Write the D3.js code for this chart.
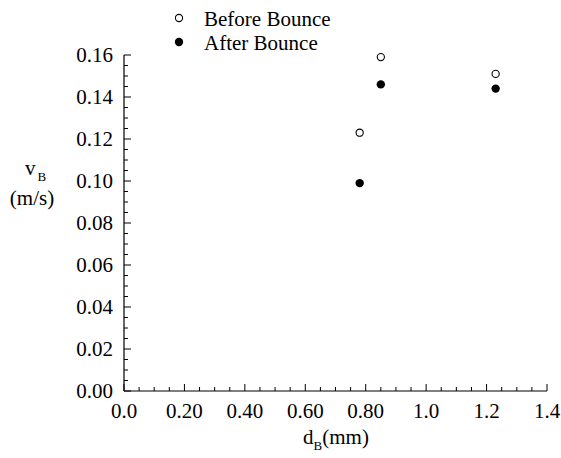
<!DOCTYPE html>
<html><head><meta charset="utf-8">
<script src="https://cdn.jsdelivr.net/npm/d3@7"></script>
<style>body{margin:0;background:#fff}svg{display:block}text{font-family:"Liberation Serif","Times New Roman",serif;fill:#000}</style>
</head><body>
<script>
const xValues = [0.78, 0.85, 1.23];
const beforeBounce = [0.123, 0.159, 0.151];
const afterBounce = [0.099, 0.146, 0.144];
const xTickValues = [0, 0.2, 0.4, 0.6, 0.8, 1.0, 1.2, 1.4];
const xTickLabels = ["0.0", "0.20", "0.40", "0.60", "0.80", "1.0", "1.2", "1.4"];
const yTickValues = [0, 0.02, 0.04, 0.06, 0.08, 0.10, 0.12, 0.14, 0.16];
const seriesNames = ["Before Bounce", "After Bounce"];

const W = 561, H = 458;
const FS = 21;
const FONT = "Liberation Serif, Times New Roman, serif";
const svg = d3.select("body").append("svg").attr("width", W).attr("height", H).attr("font-family", FONT);
const x = d3.scaleLinear().domain([0, 1.4]).range([124, 547]);
const y = d3.scaleLinear().domain([0, 0.16]).range([391, 55]);

const g = svg.append("g");
g.append("line").attr("x1", x(0)).attr("x2", x(1.4)).attr("y1", y(0)).attr("y2", y(0)).attr("stroke", "#000").attr("stroke-width", 1.2);
g.append("line").attr("x1", x(0)).attr("x2", x(0)).attr("y1", y(0)).attr("y2", y(0.16)).attr("stroke", "#000").attr("stroke-width", 1.2);

const xMinor = d3.range(0, 1.4001, 0.05);
g.selectAll(".xm").data(xMinor).join("line")
  .attr("x1", d => x(d)).attr("x2", d => x(d))
  .attr("y1", y(0)).attr("y2", (d, i) => y(0) - (i % 4 === 0 ? 7 : 4))
  .attr("stroke", "#000").attr("stroke-width", 1);
g.selectAll(".xl").data(xTickValues).join("text")
  .attr("x", d => x(d)).attr("y", y(0) + 27)
  .attr("text-anchor", "middle").attr("font-size", FS).attr("font-family", FONT)
  .text((d, i) => xTickLabels[i]);

const yMinor = d3.range(0, 0.16001, 0.005);
g.selectAll(".ym").data(yMinor).join("line")
  .attr("x1", x(0)).attr("x2", (d, i) => x(0) + (i % 4 === 0 ? 7 : 4))
  .attr("y1", d => y(d)).attr("y2", d => y(d))
  .attr("stroke", "#000").attr("stroke-width", 1);
g.selectAll(".yl").data(yTickValues).join("text")
  .attr("x", x(0) - 11).attr("y", d => y(d) + 7)
  .attr("text-anchor", "end").attr("font-size", FS).attr("font-family", FONT)
  .text(d => d3.format(".2f")(d));

g.selectAll(".before").data(xValues).join("circle")
  .attr("cx", d => x(d)).attr("cy", (d, i) => y(beforeBounce[i]))
  .attr("r", 3.6).attr("fill", "#fff").attr("stroke", "#000").attr("stroke-width", 1.1);
g.selectAll(".after").data(xValues).join("circle")
  .attr("cx", d => x(d)).attr("cy", (d, i) => y(afterBounce[i]))
  .attr("r", 4.2).attr("fill", "#000");

const leg = svg.append("g");
leg.append("circle").attr("cx", 179).attr("cy", 18).attr("r", 3.6).attr("fill", "#fff").attr("stroke", "#000").attr("stroke-width", 1.1);
leg.append("circle").attr("cx", 179).attr("cy", 42).attr("r", 4.2).attr("fill", "#000");
leg.append("text").attr("x", 204).attr("y", 26).attr("font-size", FS).text(seriesNames[0]);
leg.append("text").attr("x", 204).attr("y", 50).attr("font-size", FS).text(seriesNames[1]);

const yl = svg.append("text").attr("x", 25).attr("y", 175).attr("font-size", FS);
yl.append("tspan").text("v");
yl.append("tspan").attr("font-size", 13).attr("dy", 6).attr("dx", 2).text("B");
svg.append("text").attr("x", 32).attr("y", 205).attr("text-anchor", "middle").attr("font-size", FS).text("(m/s)");

const xl = svg.append("text").attr("x", 336).attr("y", 444).attr("text-anchor", "middle").attr("font-size", FS);
xl.append("tspan").text("d");
xl.append("tspan").attr("font-size", 13).attr("dy", 6).text("B");
xl.append("tspan").attr("dy", -6).text("(mm)");
</script>
</body></html>
